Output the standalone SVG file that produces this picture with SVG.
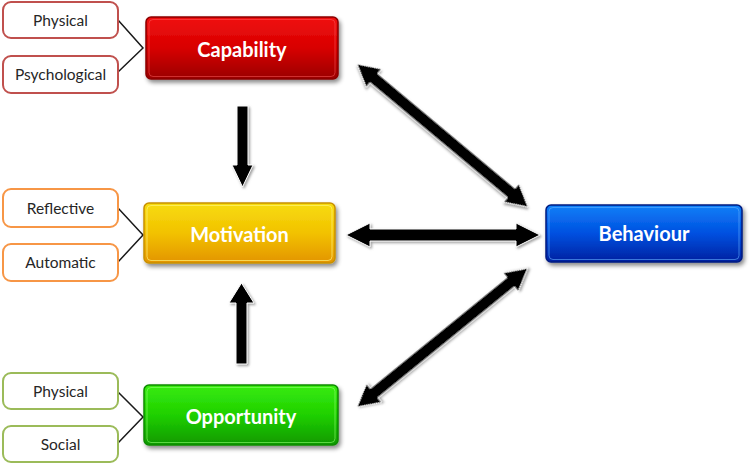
<svg xmlns="http://www.w3.org/2000/svg" width="750" height="465" viewBox="0 0 750 465">
<defs>
<linearGradient id="gRed" x1="0" y1="0" x2="0" y2="1"><stop offset="0" stop-color="#f01010"/><stop offset="0.5" stop-color="#d80000"/><stop offset="1" stop-color="#9a0000"/></linearGradient>
<linearGradient id="gYel" x1="0" y1="0" x2="0" y2="1"><stop offset="0" stop-color="#f7dc10"/><stop offset="0.5" stop-color="#f2c200"/><stop offset="1" stop-color="#e39400"/></linearGradient>
<linearGradient id="gGrn" x1="0" y1="0" x2="0" y2="1"><stop offset="0" stop-color="#38ec10"/><stop offset="0.5" stop-color="#1fd000"/><stop offset="1" stop-color="#0f9800"/></linearGradient>
<linearGradient id="gBlu" x1="0" y1="0" x2="0" y2="1"><stop offset="0" stop-color="#1080f8"/><stop offset="0.5" stop-color="#0050e0"/><stop offset="1" stop-color="#0020a0"/></linearGradient>
<filter id="sh" x="-10%" y="-20%" width="125%" height="150%"><feDropShadow dx="2" dy="3" stdDeviation="2" flood-color="#000" flood-opacity="0.45"/></filter>
<filter id="ash" x="-20%" y="-20%" width="140%" height="140%"><feDropShadow dx="1.5" dy="1.5" stdDeviation="0.8" flood-color="#888" flood-opacity="0.8"/></filter>
</defs>
<style>
.mt{font-family:Lato,"Open Sans","Liberation Sans",sans-serif;font-weight:bold;font-size:20px;fill:#fff;text-anchor:middle;}
.st{font-family:Lato,"Open Sans","Liberation Sans",sans-serif;font-size:15.5px;fill:#262626;text-anchor:middle;}
.sb{fill:#fff;stroke-width:2;}
.br{fill:none;stroke:#1a1a1a;stroke-width:1.5;}
.arr{fill:#000;stroke:#fff;stroke-width:1;filter:url(#ash);}
</style>

<g id="connectors">
<path class="br" d="M118,20 L143,48 L118,72"/>
<path class="br" d="M118,208 L143,235 L118,262"/>
<path class="br" d="M118,392 L143,417 L118,443"/>
<polygon class="arr" points="237,106 248,106 248,165 253,165 242.5,187 232,165 237,165"/>
<polygon class="arr" points="236,364 247,364 247,303 254,303 241.5,283 229,303 236,303"/>
<polygon class="arr" transform="translate(357,64) rotate(39.9)" points="0,0 22,-12 22,-6 201,-6 201,-12 223,0 201,12 201,6 22,6 22,12"/>
<polygon class="arr" transform="translate(346,235)" points="0,0 24,-12 24,-6 170,-6 170,-12 194,0 170,12 170,6 24,6 24,12"/>
<polygon class="arr" transform="translate(357,407) rotate(-39.1)" points="0,0 22,-12 22,-6 198,-6 198,-12 220,0 198,12 198,6 22,6 22,12"/>
</g>

<g id="capability">
<rect x="146" y="17" width="192" height="62" rx="5" fill="url(#gRed)" stroke="#8a0000" stroke-width="1.5" filter="url(#sh)"/>
<rect x="149" y="19.5" width="186" height="57" rx="4" fill="none" stroke="#ff6060" stroke-opacity="0.5" stroke-width="1"/>
<text class="mt" x="242" y="57">Capability</text>
</g>
<g id="cap-physical">
<rect class="sb" x="3" y="2" width="115" height="36" rx="8" stroke="#c0504d"/>
<text class="st" x="60.5" y="25.5">Physical</text>
</g>
<g id="cap-psychological">
<rect class="sb" x="3" y="56" width="115" height="37" rx="8" stroke="#c0504d"/>
<text class="st" x="60.5" y="79.5">Psychological</text>
</g>

<g id="motivation">
<rect x="144" y="203" width="191" height="60" rx="5" fill="url(#gYel)" stroke="#c89000" stroke-width="1.5" filter="url(#sh)"/>
<rect x="147" y="205.5" width="185" height="55" rx="4" fill="none" stroke="#fff27a" stroke-opacity="0.7" stroke-width="1"/>
<text class="mt" x="239.5" y="242">Motivation</text>
</g>
<g id="mot-reflective">
<rect class="sb" x="3" y="189" width="115" height="38" rx="8" stroke="#f79646"/>
<text class="st" x="60.5" y="213.5">Reflective</text>
</g>
<g id="mot-automatic">
<rect class="sb" x="3" y="244" width="115" height="37" rx="8" stroke="#f79646"/>
<text class="st" x="60.5" y="268">Automatic</text>
</g>

<g id="opportunity">
<rect x="144" y="385" width="194" height="60" rx="5" fill="url(#gGrn)" stroke="#0c8a00" stroke-width="1.5" filter="url(#sh)"/>
<rect x="147" y="387.5" width="188" height="55" rx="4" fill="none" stroke="#90ff70" stroke-opacity="0.6" stroke-width="1"/>
<text class="mt" x="241" y="424">Opportunity</text>
</g>
<g id="opp-physical">
<rect class="sb" x="3" y="373" width="115" height="36" rx="8" stroke="#9bbb59"/>
<text class="st" x="60.5" y="396.5">Physical</text>
</g>
<g id="opp-social">
<rect class="sb" x="3" y="426" width="115" height="36" rx="8" stroke="#9bbb59"/>
<text class="st" x="60.5" y="449.5">Social</text>
</g>

<g id="behaviour">
<rect x="546" y="205" width="196" height="57" rx="5" fill="url(#gBlu)" stroke="#001a80" stroke-width="1.5" filter="url(#sh)"/>
<rect x="549" y="207.5" width="190" height="52" rx="4" fill="none" stroke="#60b0ff" stroke-opacity="0.6" stroke-width="1"/>
<text class="mt" x="644" y="240.5">Behaviour</text>
</g>
</svg>
